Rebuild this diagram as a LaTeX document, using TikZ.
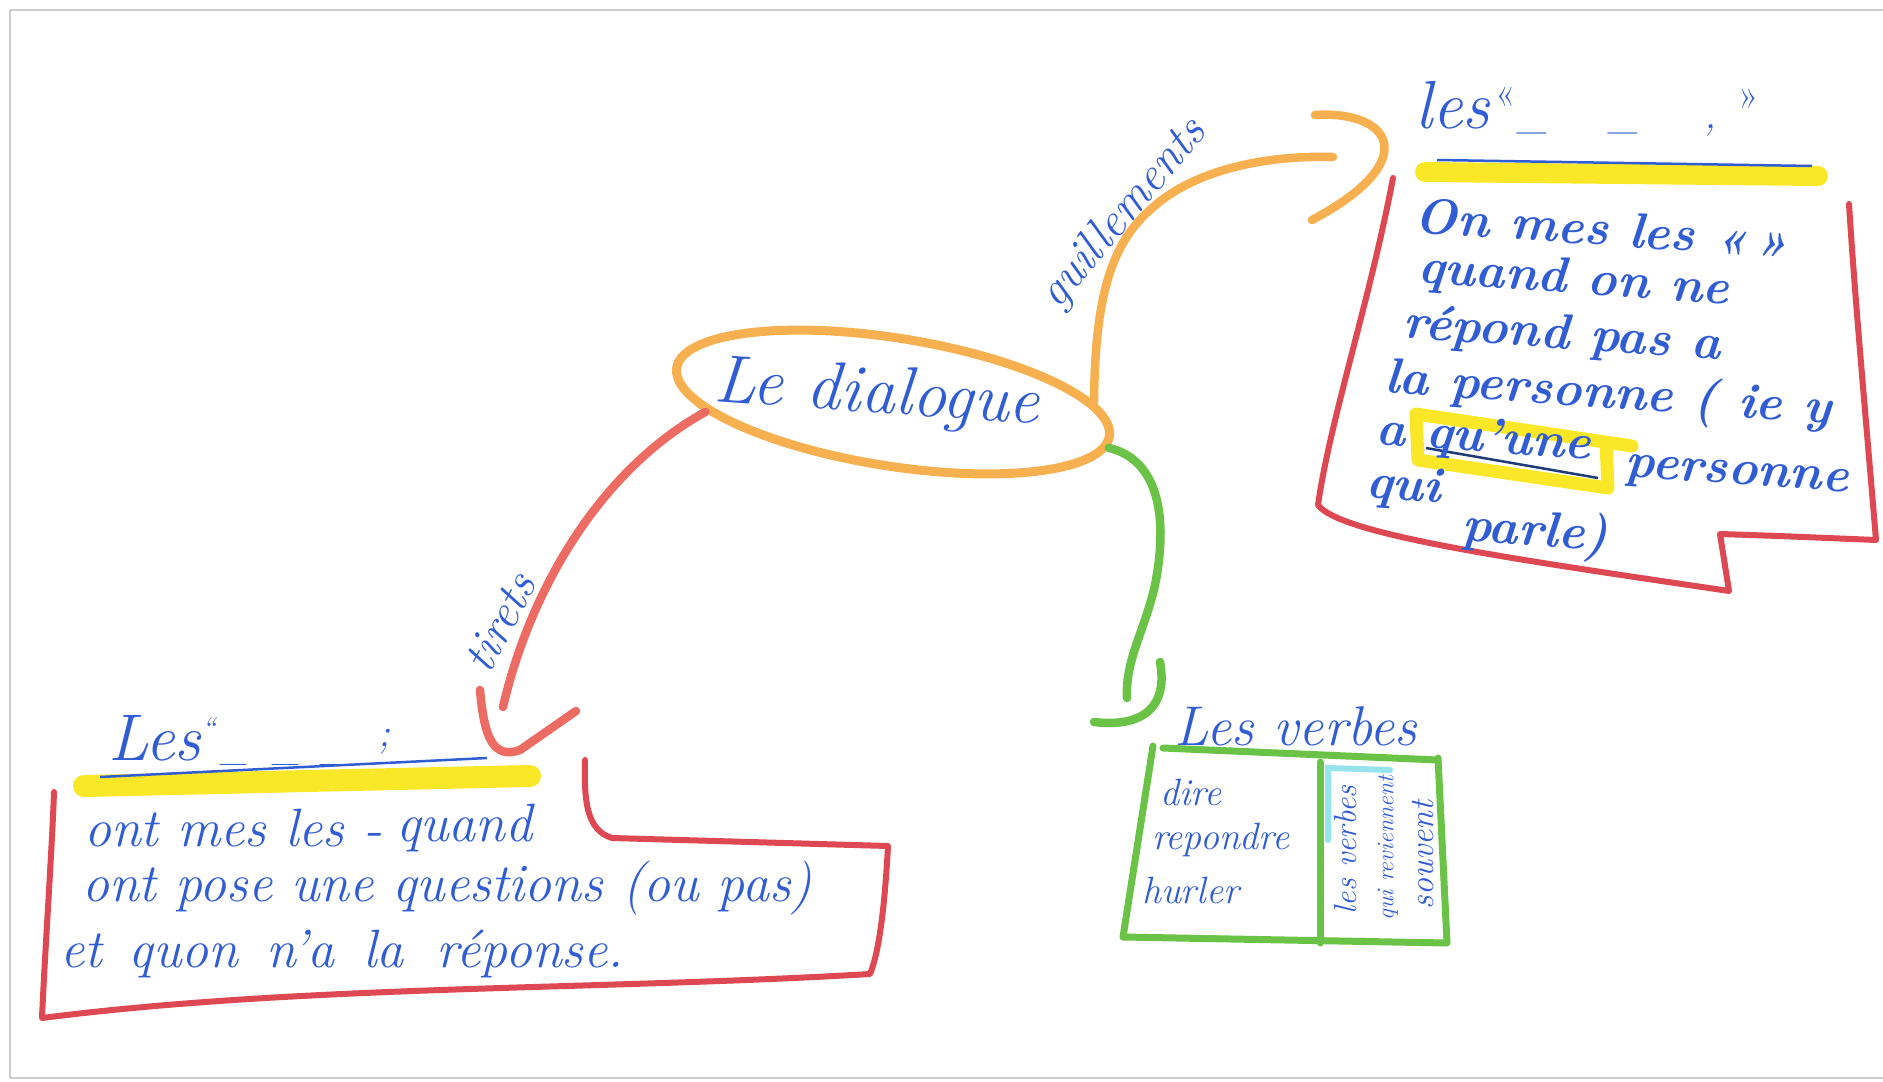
\documentclass[tikz,border=0pt]{standalone}
\usepackage{fontspec}
\usetikzlibrary{shapes.geometric}
\definecolor{ink}{RGB}{48,92,212}
\definecolor{inkdark}{RGB}{30,60,120}
\definecolor{orng}{RGB}{247,176,80}
\definecolor{rbranch}{RGB}{236,108,100}
\definecolor{rbox}{RGB}{221,72,82}
\definecolor{grn}{RGB}{106,194,70}
\definecolor{hl}{RGB}{250,232,40}
\definecolor{cyanhl}{RGB}{150,228,235}
\definecolor{framegray}{RGB}{205,205,205}
\newcommand{\fsz}[1]{\fontsize{#1}{#1}\selectfont}
\begin{document}
\begin{tikzpicture}[x=1pt,y=-1pt,
  marker/.style={line width=8.5pt, line cap=round, line join=round},
  boxline/.style={line width=6pt, line cap=round, line join=round, rbox},
  hand/.style={text=ink, inner sep=0pt, outer sep=0pt},
  trtext/.style={hand, font=\bfseries\itshape\fsz{50}, anchor=west, rotate=-4},
  bltext/.style={hand, font=\itshape\fsz{54}, anchor=west},
  vtext/.style={hand, font=\itshape\fsz{38}, anchor=west},
  hilite/.style={hl, line cap=round, line join=round}]
\useasboundingbox (0,0) rectangle (1883,1082);
\fill[white] (0,0) rectangle (1883,1082);
% frame
\draw[framegray, line width=2pt] (1883,10) -- (10,10) -- (10,1078) -- (1883,1078);

% central node
\node[ellipse, draw=orng, line width=9pt, minimum width=438pt, minimum height=128pt,
      rotate=-9, inner sep=0pt] (dia) at (893,402) {};
\node[hand, font=\itshape\fsz{68}, rotate=-4] (diat) at (877,396) {Le dialogue};

% orange branch (guillemets)
\coordinate (otip) at (1333,157);
\coordinate (obend) at (1150,210);
\draw[marker, orng] (dia.9) .. controls (1095,300) and (1110,245) .. (obend)
      .. controls (1190,172) and (1260,155) .. (otip);
\draw[marker, orng] (1315,115) .. controls (1390,110) and (1425,160) .. (1312,220);
\node[hand, font=\itshape\fsz{48}, rotate=50] (lguil) at (1124,214) {guillements};

% red branch (tirets)
\coordinate (rtip) at (503,707);
\draw[marker, rbranch] (dia.192) .. controls (600,470) and (530,590) .. (rtip);
\draw[marker, rbranch] (480,690) .. controls (484,735) and (492,760) .. (520,750) -- (576,711);
\node[hand, font=\itshape\fsz{48}, rotate=62] (ltir) at (500,622) {tirets};

% green branch
\coordinate (gtip) at (1127,698);
\draw[marker, grn] (dia.-3) .. controls (1160,460) and (1168,520) .. (1155,585)
      .. controls (1145,630) and (1125,660) .. (gtip);
\draw[marker, grn] (1160,662) .. controls (1168,705) and (1145,728) .. (1094,722);

% ---------- top right box ----------
\draw[hilite, line width=20pt] (1425,172) -- (1818,176);
\draw[ink, line width=2.5pt] (1437,160) -- (1812,166);
\node[hand, font=\itshape\fsz{68}, anchor=base west] (trtitle) at (1415,128)
  {les\hspace{6pt}\raisebox{22pt}{\upshape\fsz{40}«}\hspace{2pt}{\fsz{40}\_}\hspace{62pt}{\fsz{40}\_}\hspace{66pt}{\fsz{40},}\hspace{22pt}\raisebox{20pt}{\upshape\fsz{40}»}};
\draw[boxline] (1393,178) .. controls (1370,300) and (1330,420) .. (1318,505)
   .. controls (1340,535) and (1520,560) .. (1729,591) -- (1720,534)
   .. controls (1780,536) .. (1876,540)
   .. controls (1866,420) and (1855,300) .. (1849,204);
% highlight box round qu'une
\draw[hilite, line width=13pt] (1632,446) -- (1416,414) -- (1418,460) -- (1608,488) -- (1606,442);
\draw[inkdark, line width=2.5pt] (1426,448) -- (1598,478);
\node[trtext] (t1) at (1415,215) {On mes les «\,»};
\node[trtext] (t2) at (1418,270) {quand on ne};
\node[trtext] (t3) at (1403,325) {répond pas a};
\node[trtext] (t4) at (1385,380) {la personne ( ie y};
\node[trtext] (t5) at (1376,432) {a qu’une};
\node[trtext] (t5b) at (1625,470) {personne};
\node[trtext] (t6) at (1366,486) {qui};
\node[trtext] (t6b) at (1462,528) {parle)};

% ---------- bottom left box ----------
\draw[hilite, line width=22pt] (84,786) -- (530,776);
\draw[ink, line width=2.5pt] (100,777) -- (487,758);
\node[hand, font=\itshape\fsz{66}, anchor=base west] (bltitle) at (108,760)
  {Les\raisebox{22pt}{\fsz{30}“}\hspace{6pt}{\fsz{36}\_}\hspace{26pt}{\fsz{36}\_}\hspace{22pt}{\fsz{36}\_}\hspace{30pt}\raisebox{14pt}{\fsz{40};}};
\draw[boxline] (585,760) .. controls (584,800) and (586,830) .. (612,838) -- (888,846)
   .. controls (885,900) and (880,950) .. (870,974)
   .. controls (600,990) and (300,985) .. (42,1018)
   .. controls (45,950) and (52,850) .. (54,792);
\node[bltext] (b1) at (84,828) {ont mes les -};
\node[bltext] (b1b) at (396,828) {quand};
\node[bltext] (b2) at (82,888) {ont pose une questions (ou pas)};
\node[bltext] (b3) at (60,954) {et\hspace{8pt} quon\hspace{10pt} n’a\hspace{10pt} la\hspace{14pt} réponse.};

% ---------- verbs table ----------
\draw[cyanhl, line width=6pt, line cap=round] (1390,770) -- (1328,768) -- (1328,840);
\draw[grn, line width=7pt, line cap=round, line join=round] (1153,746) -- (1123,937) -- (1447,943) -- (1438,758);
\draw[grn, line width=7pt, line cap=round] (1163,748) -- (1438,760);
\draw[grn, line width=7pt, line cap=round] (1320,762) -- (1320,943);
\node[hand, font=\itshape\fsz{56}] (vt) at (1296,726) {Les verbes};
\node[vtext] (vd) at (1160,792) {dire};
\node[vtext] (vr) at (1152,840) {repondre};
\node[vtext] (vh) at (1142,890) {hurler};
\node[hand, font=\itshape\fsz{32}, rotate=90] (vc1) at (1346,850) {les verbes};
\node[hand, font=\itshape\fsz{24}, rotate=90] (vc2) at (1388,848) {qui reviennent};
\node[hand, font=\itshape\fsz{34}, rotate=90] (vc3) at (1423,855) {souvent};
\end{tikzpicture}
\end{document}
